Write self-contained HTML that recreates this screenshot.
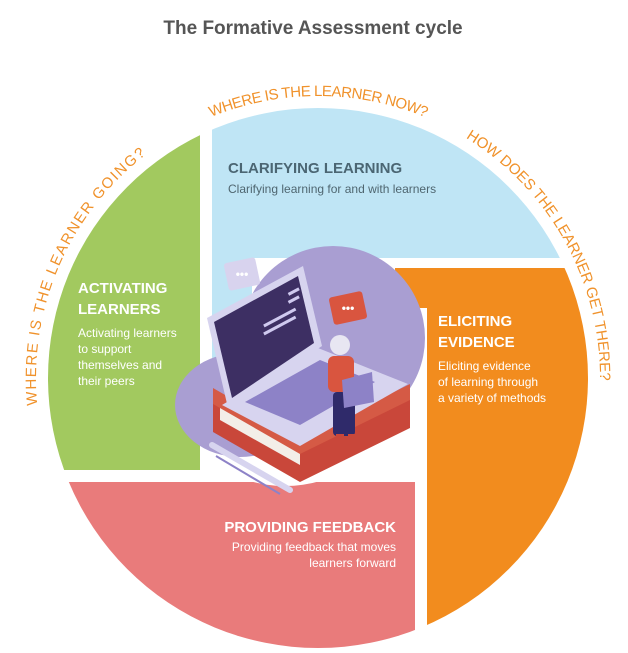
<!DOCTYPE html>
<html><head><meta charset="utf-8"><style>
html,body{margin:0;padding:0;background:#fff;}
svg{display:block;}
text{font-family:"Liberation Sans",sans-serif;}
</style></head><body>
<svg width="628" height="653" viewBox="0 0 628 653" xmlns="http://www.w3.org/2000/svg">
<defs>
<clipPath id="c"><circle cx="318" cy="378" r="270"/></clipPath>
<path id="arc" d="M 318 660 A 282 282 0 0 1 318 96 A 282 282 0 0 1 318 660"/>
</defs>
<text x="313" y="34" text-anchor="middle" font-size="19" font-weight="bold" fill="#555">The Formative Assessment cycle</text>

<g clip-path="url(#c)">
<rect x="0" y="0" width="200" height="470" fill="#a2c95f"/>
<rect x="212" y="0" width="420" height="258" fill="#bfe5f5"/>
<rect x="212" y="258" width="40" height="100" fill="#bfe5f5"/>
<rect x="427" y="268" width="220" height="400" fill="#f28c1e"/>
<rect x="395" y="268" width="40" height="40" fill="#f28c1e"/>
<rect x="0" y="482" width="415" height="200" fill="#e97b7b"/>
</g>
<ellipse cx="285" cy="420" rx="92" ry="66" fill="#fff"/>
<!-- purple blob -->
<circle cx="333" cy="338" r="92" fill="#a99ed2"/>
<ellipse cx="240" cy="405" rx="65" ry="52" fill="#a99ed2"/>
<ellipse cx="300" cy="420" rx="80" ry="40" fill="#a99ed2"/>
<!-- chat bubbles -->
<rect x="226" y="260" width="32" height="28" rx="3" fill="#d8d3ee" transform="rotate(-12 242 274)"/>
<text x="242" y="278" text-anchor="middle" font-size="12" fill="#fff" font-weight="bold">•••</text>
<rect x="331" y="294" width="34" height="28" rx="3" fill="#d9553f" transform="rotate(-12 348 308)"/>
<text x="348" y="312" text-anchor="middle" font-size="12" fill="#fff" font-weight="bold">•••</text>
<!-- books -->
<polygon points="213,402 300,452 410,398 410,428 300,482 213,432" fill="#c9473a"/>
<polygon points="220,406 300,452 300,465 220,420" fill="#f3eee8"/>
<polygon points="213,388 300,438 410,384 410,400 300,454 213,404" fill="#d55a45"/>
<!-- laptop base -->
<polygon points="222,405 318,348 408,384 300,446" fill="#d7d4ef"/>
<polygon points="245,402 320,360 375,382 300,425" fill="#8d82c7"/>
<!-- laptop screen -->
<polygon points="207,318 303,266 322,346 228,408" fill="#d7d4ef"/>
<polygon points="214,322 298,276 314,343 232,398" fill="#3d2f63"/>
<rect x="262" y="316" width="36" height="3" fill="#cfc9ef" transform="rotate(-28 280 318)"/>
<rect x="262" y="324" width="36" height="3" fill="#cfc9ef" transform="rotate(-28 280 326)"/>
<rect x="288" y="290" width="12" height="3" fill="#cfc9ef" transform="rotate(-28 294 292)"/>
<rect x="288" y="298" width="12" height="3" fill="#cfc9ef" transform="rotate(-28 294 300)"/>
<!-- person -->
<circle cx="340" cy="345" r="10" fill="#e8e6f2"/>
<rect x="328" y="356" width="26" height="36" rx="6" fill="#d9553f"/>
<rect x="333" y="392" width="22" height="44" rx="4" fill="#2f2a6a"/>
<polygon points="342,380 372,372 374,402 344,408" fill="#8d82c7"/>
<rect x="336" y="434" width="8" height="10" fill="#c9473a"/>
<rect x="348" y="434" width="8" height="10" fill="#c9473a"/>
<!-- pen -->
<line x1="212" y1="445" x2="290" y2="490" stroke="#d7d4ef" stroke-width="6" stroke-linecap="round"/>
<line x1="216" y1="456" x2="280" y2="494" stroke="#8d82c7" stroke-width="2"/>

<!-- labels -->
<text x="228" y="173" font-size="15" font-weight="bold" fill="#4b6673">CLARIFYING LEARNING</text>
<text x="228" y="193" font-size="12" fill="#4f6670">Clarifying learning for and with learners</text>

<g fill="#fff">
<text x="78" y="293" font-size="15" font-weight="bold">ACTIVATING</text>
<text x="78" y="314" font-size="15" font-weight="bold">LEARNERS</text>
<text x="78" y="337" font-size="12">Activating learners</text>
<text x="78" y="353" font-size="12">to support</text>
<text x="78" y="369" font-size="12">themselves and</text>
<text x="78" y="385" font-size="12">their peers</text>

<text x="438" y="326" font-size="15" font-weight="bold">ELICITING</text>
<text x="438" y="347" font-size="15" font-weight="bold">EVIDENCE</text>
<text x="438" y="370" font-size="12">Eliciting evidence</text>
<text x="438" y="386" font-size="12">of learning through</text>
<text x="438" y="402" font-size="12">a variety of methods</text>

<text x="396" y="532" font-size="15" font-weight="bold" text-anchor="end">PROVIDING FEEDBACK</text>
<text x="396" y="551" font-size="12" text-anchor="end">Providing feedback that moves</text>
<text x="396" y="567" font-size="12" text-anchor="end">learners forward</text>
</g>

<g fill="#f0922b" font-size="15">
<text><textPath href="#arc" startOffset="558" text-anchor="middle" textLength="285" lengthAdjust="spacing">WHERE IS THE LEARNER GOING?</textPath></text>
<text><textPath href="#arc" startOffset="886" text-anchor="middle" textLength="220" lengthAdjust="spacing">WHERE IS THE LEARNER NOW?</textPath></text>
<text><textPath href="#arc" startOffset="1186" text-anchor="middle" textLength="290" lengthAdjust="spacing">HOW DOES THE LEARNER GET THERE?</textPath></text>
</g>
</svg>
</body></html>
